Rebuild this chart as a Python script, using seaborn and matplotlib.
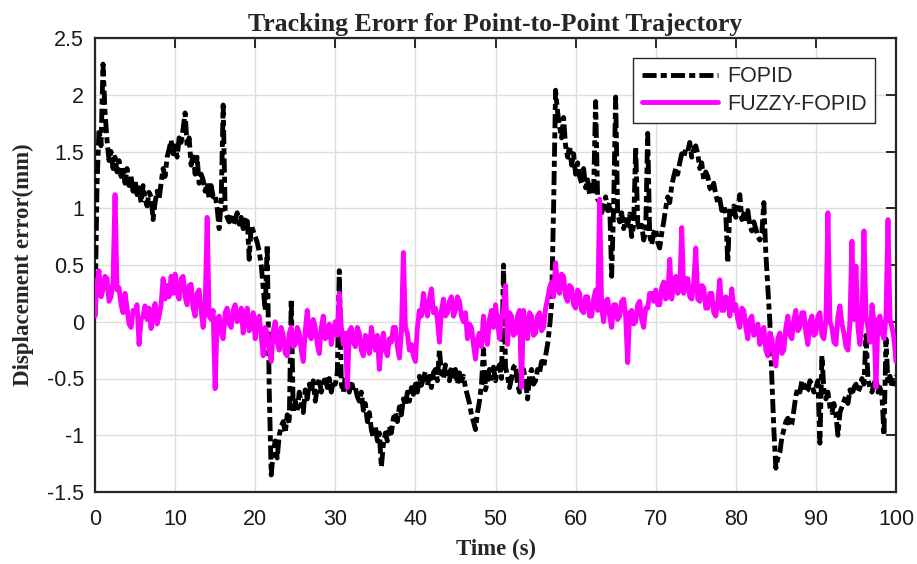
import numpy as np
import pandas as pd
import matplotlib
matplotlib.use("Agg")
import matplotlib.pyplot as plt
import seaborn as sns

# time axis (s), 0.25 s sampling
time_s = np.arange(0, 100.001, 0.25)

# FOPID tracking error (mm), one row = 5 s
fopid = [
    0.05, 1.20, 1.70, 1.55, 2.27, 1.85, 1.60, 1.42, 1.50, 1.35, 1.45, 1.32, 1.42, 1.28, 1.36, 1.22, 1.35, 1.20, 1.28, 1.15,
    1.25, 1.12, 1.18, 1.05, 1.20, 1.08, 1.02, 1.14, 1.10, 0.90, 1.05, 1.15, 1.08, 1.22, 1.35, 1.28, 1.45, 1.52, 1.60, 1.48,
    1.55, 1.45, 1.62, 1.58, 1.70, 1.84, 1.55, 1.62, 1.38, 1.48, 1.30, 1.45, 1.22, 1.30, 1.25, 1.15, 1.22, 1.08, 1.20, 1.10,
    1.12, 1.00, 0.82, 1.05, 1.91, 0.98, 0.92, 0.88, 0.95, 0.85, 0.90, 0.96, 0.86, 0.92, 0.82, 0.88, 0.92, 0.55, 0.85, 0.80,
    0.75, 0.70, 0.62, 0.50, 0.30, 0.10, 0.68, -0.60, -1.35, -1.15, -1.05, -1.20, -1.00, -0.92, -0.88, -0.98, -0.82, -0.90, 0.20, -0.80,
    -0.70, -0.78, -0.62, -0.72, -0.80, -0.60, -0.68, -0.55, -0.62, -0.52, -0.70, -0.58, -0.50, -0.62, -0.55, -0.48, -0.58, -0.50, -0.62, -0.52,
    -0.55, -0.45, 0.45, -0.55, -0.62, -0.48, -0.55, -0.62, -0.52, -0.60, -0.58, -0.66, -0.70, -0.62, -0.78, -0.72, -0.88, -0.80, -0.95, -1.02,
    -0.92, -1.05, -0.98, -1.28, -1.08, -0.98, -1.05, -0.92, -0.98, -0.85, -0.80, -0.88, -0.75, -0.82, -0.68, -0.74, -0.62, -0.70, -0.58, -0.64,
    -0.55, -0.62, -0.48, -0.56, -0.50, -0.44, -0.56, -0.48, -0.58, -0.45, -0.42, -0.52, -0.24, -0.46, -0.50, -0.38, -0.45, -0.52, -0.40, -0.48,
    -0.42, -0.55, -0.45, -0.52, -0.48, -0.58, -0.65, -0.72, -0.82, -0.88, -0.95, -0.80, -0.70, -0.55, -0.24, -0.60, -0.52, -0.42, -0.50, -0.40,
    -0.52, -0.42, -0.38, -0.50, 0.50, -0.40, -0.48, -0.58, -0.50, -0.40, -0.38, -0.55, -0.62, -0.45, -0.42, -0.52, -0.68, -0.48, -0.42, -0.55,
    -0.52, -0.42, -0.45, -0.35, -0.40, -0.30, -0.20, -0.05, 0.15, 1.00, 2.04, 1.85, 1.72, 1.62, 1.80, 1.55, 1.45, 1.55, 1.38, 1.48,
    1.30, 1.40, 1.28, 1.22, 1.35, 1.18, 1.25, 1.12, 1.20, 1.15, 1.94, 1.08, 1.05, 0.96, 1.02, 1.10, 0.98, 1.05, 0.40, 1.02,
    1.98, 0.95, 0.88, 0.96, 0.82, 0.90, 0.85, 0.95, 0.75, 0.85, 1.54, 0.88, 0.80, 0.85, 0.72, 0.80, 1.66, 0.76, 0.68, 0.78,
    0.82, 0.70, 0.65, 0.78, 0.88, 1.00, 1.10, 1.05, 1.20, 1.28, 1.35, 1.30, 1.40, 1.48, 1.45, 1.52, 1.50, 1.58, 1.45, 1.52,
    1.55, 1.48, 1.35, 1.40, 1.25, 1.32, 1.28, 1.18, 1.15, 1.22, 1.12, 1.05, 1.08, 0.98, 1.02, 0.95, 0.52, 1.00, 0.95, 1.02,
    0.92, 0.98, 1.12, 0.90, 0.95, 0.88, 0.98, 0.85, 0.80, 0.88, 0.82, 0.75, 0.72, 0.78, 1.05, 0.60, 0.30, 0.00, -0.50, -0.95,
    -1.29, -1.20, -1.15, -1.02, -0.95, -0.88, -0.85, -0.92, -0.90, -0.78, -0.65, -0.58, -0.62, -0.52, -0.55, -0.62, -0.60, -0.52, -0.55, -0.62,
    -0.58, -0.52, -1.07, -0.30, -0.60, -0.68, -0.62, -0.75, -0.80, -0.72, -0.82, -1.00, -0.80, -0.75, -0.70, -0.65, -0.72, -0.60, -0.65, -0.58,
    -0.55, -0.62, -0.58, -0.50, -0.55, -0.12, -0.50, -0.58, -0.62, -0.55, -0.50, -0.62, -0.58, -0.65, -1.00, -0.15, -0.55, -0.48, -0.58, -0.50,
    -0.48,
]

# FUZZY-FOPID tracking error (mm), one row = 5 s
fuzzy_fopid = [
    0.05, 0.35, 0.45, 0.22, 0.28, 0.40, 0.38, 0.18, 0.22, 0.35, 1.12, 0.28, 0.30, 0.15, 0.08, 0.25, 0.12, -0.02, -0.05, 0.10,
    0.08, 0.15, -0.20, 0.02, 0.05, 0.14, 0.02, 0.12, -0.06, 0.08, 0.16, -0.02, 0.05, 0.15, 0.38, 0.20, 0.32, 0.22, 0.40, 0.25,
    0.42, 0.25, 0.20, 0.38, 0.40, 0.22, 0.15, 0.32, 0.33, 0.12, 0.05, 0.25, 0.28, 0.10, -0.05, 0.12, 0.92, 0.05, 0.02, 0.10,
    -0.59, 0.02, 0.05, -0.10, -0.15, 0.08, 0.12, -0.02, -0.05, 0.10, 0.15, 0.00, 0.02, 0.12, -0.10, 0.05, 0.12, -0.08, -0.05, 0.08,
    -0.15, 0.02, 0.05, -0.12, -0.30, -0.05, -0.10, -0.25, -0.35, -0.08, 0.00, -0.18, -0.25, -0.05, -0.12, -0.28, -0.30, -0.10, -0.05, -0.22,
    -0.20, -0.05, -0.10, -0.25, -0.35, -0.08, 0.10, -0.12, -0.15, 0.02, -0.05, -0.20, -0.28, -0.05, 0.05, -0.15, -0.12, -0.02, -0.20, -0.08,
    0.00, -0.12, 0.25, -0.05, -0.20, -0.10, -0.58, -0.08, -0.05, -0.18, -0.22, -0.05, -0.10, -0.25, -0.30, -0.12, -0.15, -0.28, -0.05, -0.18,
    -0.25, -0.12, -0.42, -0.20, -0.10, -0.25, -0.30, -0.15, -0.18, -0.05, -0.05, -0.22, -0.32, -0.10, 0.61, -0.05, -0.10, -0.25, -0.20, -0.30,
    -0.35, -0.05, 0.10, 0.05, 0.25, 0.12, 0.05, 0.20, 0.29, 0.08, 0.12, 0.02, -0.18, 0.10, 0.20, 0.05, 0.08, 0.18, 0.22, 0.05,
    0.10, 0.22, 0.18, 0.05, 0.00, 0.08, -0.15, -0.02, -0.05, -0.20, -0.33, -0.15, -0.10, -0.22, 0.05, -0.12, -0.20, 0.02, 0.10, -0.05,
    0.15, 0.00, -0.15, 0.05, 0.10, 0.32, -0.20, 0.08, 0.05, -0.12, -0.10, 0.05, 0.10, -0.58, 0.10, -0.05, -0.15, 0.08, 0.05, -0.12,
    -0.10, 0.05, 0.08, -0.08, -0.05, 0.12, 0.20, 0.30, 0.35, 0.22, 0.52, 0.30, 0.25, 0.42, 0.40, 0.22, 0.18, 0.32, 0.30, 0.15,
    0.12, 0.28, 0.25, 0.10, 0.08, 0.22, 0.22, 0.05, 0.05, 0.20, 0.28, 0.10, 1.08, 0.12, 0.00, 0.18, 0.20, 0.05, -0.05, 0.15,
    0.15, 0.02, 0.05, 0.18, 0.20, 0.05, -0.36, 0.08, 0.10, -0.02, 0.00, 0.15, 0.18, 0.02, -0.05, 0.12, 0.12, 0.25, 0.25, 0.18,
    0.28, 0.15, 0.15, 0.30, 0.35, 0.20, 0.22, 0.55, 0.20, 0.35, 0.40, 0.25, 0.28, 0.83, 0.25, 0.38, 0.38, 0.22, 0.20, 0.35,
    0.65, 0.20, 0.18, 0.32, 0.30, 0.12, 0.12, 0.25, 0.25, 0.08, 0.05, 0.18, 0.37, 0.10, 0.10, 0.22, 0.20, 0.05, 0.29, 0.10,
    0.15, 0.02, -0.05, 0.12, 0.10, -0.05, -0.15, 0.02, 0.05, -0.12, -0.10, -0.02, -0.20, -0.08, -0.05, -0.25, -0.30, -0.10, -0.15, -0.30,
    -0.39, -0.15, -0.10, -0.28, -0.25, -0.05, 0.05, -0.12, -0.15, 0.02, 0.10, -0.08, -0.05, 0.08, 0.08, -0.10, -0.20, 0.00, 0.05, -0.12,
    -0.10, 0.05, 0.08, -0.12, -0.15, 0.02, 0.96, 0.00, -0.05, -0.18, -0.20, 0.05, 0.14, -0.02, -0.10, -0.22, -0.25, 0.00, 0.71, 0.02,
    0.49, -0.05, -0.20, 0.02, 0.80, 0.05, -0.05, -0.18, 0.15, 0.00, -0.58, 0.02, 0.05, -0.10, -0.15, 0.05, 0.90, 0.02, -0.05, -0.15,
    -0.35,
]

x_ticks = [0, 10, 20, 30, 40, 50, 60, 70, 80, 90, 100]
y_ticks = [-1.5, -1, -0.5, 0, 0.5, 1, 1.5, 2, 2.5]
y_tick_labels = ["-1.5", "-1", "-0.5", "0", "0.5", "1", "1.5", "2", "2.5"]

sns.set_style("white")
plt.rcParams["font.family"] = ["Liberation Sans", "DejaVu Sans"]

fig = plt.figure(figsize=(9.17, 5.64), dpi=100)
ax = fig.add_axes([95 / 917, 1 - 492 / 564, 801 / 917, 454 / 564])

lw = 3.5
sns.lineplot(x=time_s, y=fopid, ax=ax, color="black", lw=lw,
             linestyle=(0, (2.9, 0.85, 1.25, 0.85)), label="FOPID",
             estimator=None, sort=False, zorder=3)
sns.lineplot(x=time_s, y=fuzzy_fopid, ax=ax, color="#ff00ff", lw=lw,
             linestyle="-", label="FUZZY-FOPID",
             estimator=None, sort=False, zorder=4)

ax.set_xlim(0, 100)
ax.set_ylim(-1.5, 2.5)
ax.set_xticks(x_ticks)
ax.set_yticks(y_ticks)
ax.set_yticklabels(y_tick_labels)
ax.grid(True, color="#dedede", lw=1.0, zorder=0)
ax.set_axisbelow(True)

for s in ax.spines.values():
    s.set_color("#262626")
    s.set_linewidth(1.6)
ax.tick_params(direction="in", length=7, width=1.4, color="#262626",
               top=True, right=True, labelsize=15.5, labelcolor="#1a1a1a")
ax.tick_params(axis="x", pad=12.5)
ax.tick_params(axis="y", pad=8)

serif = ["Liberation Serif", "DejaVu Serif"]
ax.set_title("Tracking Erorr for Point-to-Point Trajectory", fontsize=18.5,
             fontweight="bold", family=serif, pad=5)
ax.set_xlabel("Time (s)", fontsize=16.5, fontweight="bold", family=serif, labelpad=6)
ax.set_ylabel("Displacement error(mm)", fontsize=16.5, fontweight="bold",
              family=serif, labelpad=9)

leg = ax.legend(loc="upper right", bbox_to_anchor=(0.9738, 0.9566),
                borderaxespad=0, fontsize=15.5, handlelength=3.55,
                frameon=True, fancybox=False, framealpha=1,
                edgecolor="#262626", labelspacing=0.3, handletextpad=0.4,
                borderpad=0.4)
leg.get_frame().set_linewidth(1.0)

fig.savefig("out.png", dpi=100)
